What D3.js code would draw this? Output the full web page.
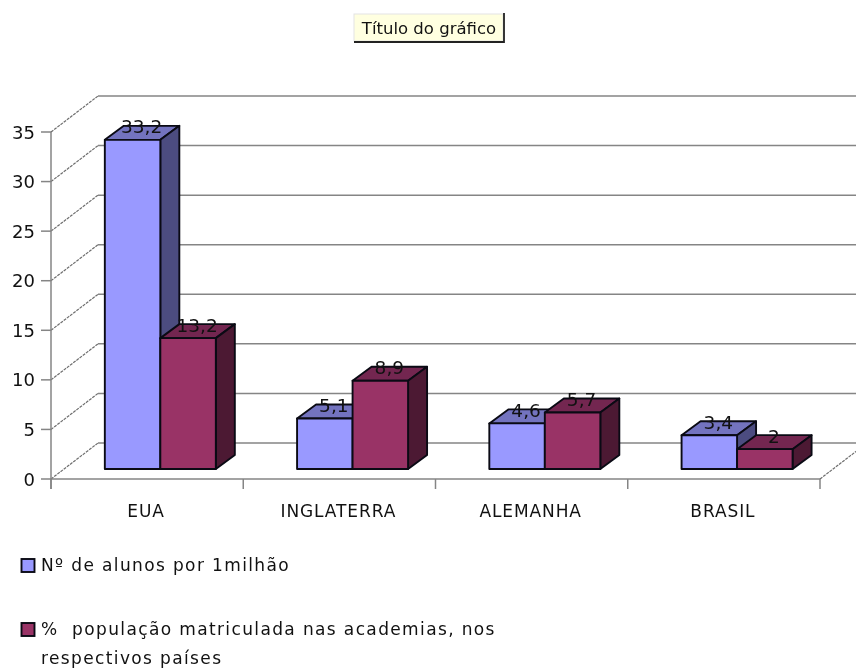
<!DOCTYPE html>
<html><head><meta charset="utf-8">
<script src="https://cdn.jsdelivr.net/npm/d3@7"></script>
<style>html,body{margin:0;background:#fff}svg{display:block;filter:blur(0.6px)}text{font-family:"DejaVu Sans",sans-serif;fill:#111}</style>
</head><body><div id="c"></div>
<script>
const categories = ["EUA","INGLATERRA","ALEMANHA","BRASIL"];
const alunos = [33.2,5.1,4.6,3.4];
const populacao = [13.2,8.9,5.7,2];
const valueLabelsA = ["33,2","5,1","4,6","3,4"];
const valueLabelsB = ["13,2","8,9","5,7","2"];
const yTicks = [0,5,10,15,20,25,30,35];
const seriesNames = ["Nº de alunos por 1milhão"];
const legendB = ["%  população matriculada nas academias, nos","respectivos países"];
const title = "Título do gráfico";
const W=856,H=668;
const fills=[{f:"#9999ff",s:"#4c4c80",t:"#7373bf"},{f:"#993366",s:"#4c1933",t:"#732650"}];
const svg=d3.select("#c").append("svg").attr("width",W).attr("height",H);
const y=d3.scaleLinear().domain([0,35]).range([479,132]);
const x=d3.scaleBand().domain(categories).range([51,820]);
const grey="#858585";
const wallDx=47,wallDy=-36;
// wall
yTicks.forEach(t=>{
  svg.append("line").attr("x1",x.range()[0]).attr("y1",y(t)).attr("x2",x.range()[0]+wallDx).attr("y2",y(t)+wallDy)
    .attr("stroke","#6e6e6e").attr("stroke-width",1.2).attr("stroke-dasharray","3 1");
  svg.append("line").attr("x1",x.range()[0]+wallDx).attr("y1",y(t)+wallDy).attr("x2",W).attr("y2",y(t)+wallDy)
    .attr("stroke",grey).attr("stroke-width",1.5);
  svg.append("line").attr("x1",41).attr("x2",51).attr("y1",y(t)).attr("y2",y(t)).attr("stroke",grey).attr("stroke-width",1.5);
  svg.append("text").attr("x",35).attr("y",y(t)+6.5).attr("text-anchor","end").attr("font-size",18).text(t);
});
svg.append("line").attr("x1",51).attr("x2",51).attr("y1",132).attr("y2",489).attr("stroke",grey).attr("stroke-width",1.5);
svg.append("line").attr("x1",51).attr("x2",820).attr("y1",479).attr("y2",479).attr("stroke",grey).attr("stroke-width",1.5);
svg.append("line").attr("x1",820).attr("y1",479).attr("x2",820+wallDx).attr("y2",479+wallDy).attr("stroke","#6e6e6e").attr("stroke-width",1.2).attr("stroke-dasharray","3 1");
[...categories.map(c=>x(c)),820].forEach(v=>svg.append("line").attr("x1",v).attr("x2",v).attr("y1",479).attr("y2",489).attr("stroke",grey).attr("stroke-width",1.5));
categories.forEach(c=>svg.append("text").attr("x",x(c)+x.bandwidth()/2-1).attr("y",517).attr("text-anchor","middle").attr("font-size",17).attr("letter-spacing",0.9).text(c));
// bars
const barW=55.5,dx=19,dy=-14,zx=13.2,zy=-10;
const ln="#0a0a14";
const draw=(cat,i,v,si,label)=>{
  const x0=x(cat)+x.bandwidth()/2-barW+si*barW+zx, x1=x0+barW;
  const yb=y(0)+zy, yt=y(v)+zy;
  const c=fills[si];
  const g=svg.append("g").attr("stroke",ln).attr("stroke-width",1.9).attr("stroke-linejoin","round");
  g.append("path").attr("fill",c.t).attr("d",d3.line()([[x0,yt],[x0+dx,yt+dy],[x1+dx,yt+dy],[x1,yt]])+"Z");
  g.append("path").attr("fill",c.s).attr("d",d3.line()([[x1,yt],[x1+dx,yt+dy],[x1+dx,yb+dy],[x1,yb]])+"Z");
  g.append("rect").attr("fill",c.f).attr("x",x0).attr("y",yt).attr("width",barW).attr("height",yb-yt);
  return ()=>svg.append("text").attr("x",(x0+x1)/2+9).attr("y",yt-6.5).attr("text-anchor","middle").attr("font-size",18.5).text(label);
};
const labelFns=[];
categories.forEach((c,i)=>{
  labelFns.push(draw(c,i,alunos[i],0,valueLabelsA[i]));
  labelFns.push(draw(c,i,populacao[i],1,valueLabelsB[i]));
});
labelFns.forEach(f=>f());
// title
svg.append("rect").attr("x",354).attr("y",14).attr("width",149).attr("height",27).attr("fill","#ffffe0").attr("stroke","#e4e4e4");
svg.append("path").attr("d","M504 13V42H354").attr("fill","none").attr("stroke","#222").attr("stroke-width",1.8);
svg.append("text").attr("x",429).attr("y",33.5).attr("text-anchor","middle").attr("font-size",16.5).text(title);
// legend
const lg=(yy,c)=>svg.append("rect").attr("x",21.5).attr("y",yy).attr("width",13).attr("height",13).attr("fill",c).attr("stroke",ln).attr("stroke-width",1.9);
lg(559,fills[0].f);lg(623,fills[1].f);
svg.append("text").attr("x",41).attr("y",571).attr("font-size",17).attr("letter-spacing",1.37).text(seriesNames[0]);
svg.append("text").attr("x",41).attr("y",635).attr("font-size",17).attr("letter-spacing",1.37).style("white-space","pre").text(legendB[0]);
svg.append("text").attr("x",41).attr("y",664).attr("font-size",17).attr("letter-spacing",1.37).text(legendB[1]);
</script></body></html>
